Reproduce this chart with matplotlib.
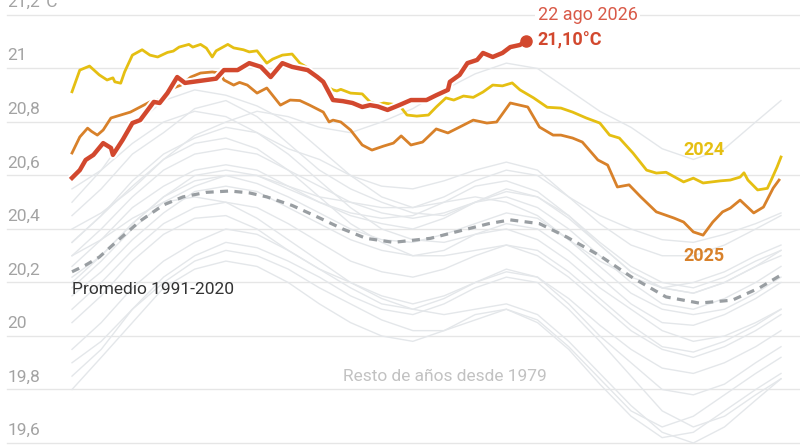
import numpy as np
import matplotlib.pyplot as plt
import matplotlib.patheffects as pe
import matplotlib.transforms as mtransforms

plt.rcParams['font.family'] = ['Roboto', 'DejaVu Sans']

# ---- data (day of year, temperature in C) ----
days_2024 = [1, 5, 10, 15, 19, 22, 23, 26, 28, 32, 37, 41, 45, 50, 53, 56, 61, 63, 67, 70,
             73, 75, 81, 84, 89, 92, 96, 101, 104, 109, 114, 118, 124, 128, 132, 135, 137,
             139, 144, 150, 154, 158, 161, 169, 173, 178, 184, 188, 193, 197, 202, 207, 212,
             217, 222, 227, 231, 238, 245, 252, 258, 265, 272, 277, 282, 289, 296, 301, 306,
             315, 320, 325, 334, 339, 344, 346, 348, 353, 358, 360, 363, 365]
temp_2024 = [20.913, 20.994, 21.009, 20.976, 20.957, 20.965, 20.950, 20.945, 20.987, 21.05,
             21.07, 21.05, 21.043, 21.06, 21.065, 21.08, 21.09, 21.08, 21.09, 21.076, 21.043,
             21.066, 21.09, 21.077, 21.07, 21.062, 21.066, 21.02, 21.035, 21.05, 21.054, 21.02,
             20.994, 20.965, 20.931, 20.92, 20.916, 20.922, 20.908, 20.905, 20.875, 20.865,
             20.871, 20.863, 20.826, 20.822, 20.826, 20.856, 20.89, 20.882, 20.897, 20.892,
             20.912, 20.938, 20.935, 20.946, 20.92, 20.89, 20.855, 20.852, 20.837, 20.815,
             20.796, 20.751, 20.74, 20.684, 20.62, 20.609, 20.612, 20.576, 20.59, 20.572,
             20.58, 20.583, 20.594, 20.61, 20.583, 20.546, 20.552, 20.583, 20.632, 20.669]

days_2025 = [1, 5, 9, 11, 14, 17, 21, 26, 31, 36, 41, 45, 49, 53, 57, 62, 67, 73, 77, 79, 84,
             87, 91, 96, 101, 108, 113, 118, 123, 130, 133, 135, 139, 144, 150, 155, 161, 166,
             170, 175, 181, 188, 194, 200, 207, 214, 219, 226, 235, 241, 248, 252, 258, 263,
             271, 276, 281, 287, 293, 301, 310, 315, 320, 325, 330, 335, 339, 344, 351, 356,
             361, 364]
temp_2025 = [20.684, 20.744, 20.777, 20.765, 20.751, 20.77, 20.815, 20.826, 20.837, 20.856,
             20.875, 20.882, 20.89, 20.927, 20.938, 20.968, 20.983, 20.987, 20.983, 20.957,
             20.938, 20.948, 20.938, 20.908, 20.927, 20.863, 20.882, 20.88, 20.863, 20.837,
             20.80, 20.807, 20.80, 20.77, 20.714, 20.695, 20.71, 20.721, 20.748, 20.714, 20.725,
             20.774, 20.759, 20.781, 20.807, 20.796, 20.80, 20.871, 20.856, 20.781, 20.751,
             20.751, 20.74, 20.725, 20.658, 20.639, 20.557, 20.565, 20.52, 20.464, 20.441,
             20.426, 20.389, 20.377, 20.426, 20.464, 20.478, 20.508, 20.46, 20.482, 20.553,
             20.583]

days_2026 = [1, 5, 8, 12, 17, 21, 22, 27, 32, 36, 43, 46, 50, 55, 59, 63, 70, 75, 79, 86, 92,
             98, 103, 109, 114, 122, 127, 130, 135, 140, 145, 150, 154, 158, 163, 169, 175,
             178, 183, 188, 194, 195, 200, 204, 209, 212, 217, 222, 226, 231, 234]
temp_2026 = [20.591, 20.62, 20.658, 20.677, 20.721, 20.703, 20.677, 20.733, 20.796, 20.807,
             20.875, 20.871, 20.908, 20.968, 20.946, 20.95, 20.957, 20.962, 20.994, 20.994,
             21.02, 21.006, 20.968, 21.02, 21.006, 20.994, 20.968, 20.95, 20.882, 20.878,
             20.871, 20.856, 20.863, 20.858, 20.845, 20.863, 20.882, 20.882, 20.882, 20.90,
             20.92, 20.95, 20.976, 21.02, 21.032, 21.058, 21.043, 21.058, 21.08, 21.088, 21.104]

days_avg = [1, 8, 15, 25, 36, 48, 58, 70, 82, 92, 101, 114, 127, 140, 152, 166, 185, 204, 215,
            226, 241, 255, 272, 289, 306, 323, 340, 354, 365]
temp_avg = [20.24, 20.265, 20.295, 20.36, 20.43, 20.49, 20.52, 20.537, 20.542, 20.535, 20.52,
            20.488, 20.445, 20.40, 20.365, 20.35, 20.365, 20.40, 20.42, 20.434, 20.42, 20.37,
            20.30, 20.217, 20.146, 20.123, 20.134, 20.18, 20.228]

# rest of years since 1979 (rough readings every ~16 days)
days_bg = [1, 16, 32, 48, 64, 80, 96, 112, 128, 144, 160, 176, 192, 208, 224, 240, 256, 272,
           288, 304, 320, 336, 352, 365]
bg_1979 = [19.80, 19.92, 20.05, 20.18, 20.25, 20.28, 20.26, 20.20, 20.12, 20.05, 20.00, 19.98,
           20.02, 20.08, 20.10, 20.05, 19.95, 19.82, 19.70, 19.62, 19.64, 19.72, 19.80, 19.86]
bg_1983 = [20.30, 20.36, 20.44, 20.50, 20.52, 20.50, 20.44, 20.36, 20.28, 20.20, 20.14, 20.10,
           20.08, 20.10, 20.12, 20.08, 19.98, 19.86, 19.74, 19.64, 19.60, 19.66, 19.76, 19.84]
bg_1985 = [19.85, 19.95, 20.10, 20.22, 20.30, 20.35, 20.33, 20.28, 20.22, 20.15, 20.10, 20.08,
           20.12, 20.18, 20.22, 20.20, 20.10, 19.98, 19.85, 19.72, 19.66, 19.70, 19.78, 19.84]
bg_1988 = [19.90, 19.98, 20.10, 20.20, 20.28, 20.32, 20.30, 20.25, 20.18, 20.12, 20.06, 20.02,
           20.02, 20.06, 20.10, 20.06, 19.96, 19.84, 19.72, 19.66, 19.70, 19.78, 19.86, 19.92]
bg_1989 = [19.95, 20.05, 20.18, 20.28, 20.35, 20.40, 20.38, 20.32, 20.25, 20.20, 20.15, 20.12,
           20.15, 20.20, 20.25, 20.22, 20.12, 20.00, 19.90, 19.80, 19.78, 19.82, 19.90, 19.96]
bg_1992 = [20.05, 20.15, 20.28, 20.38, 20.44, 20.45, 20.40, 20.32, 20.25, 20.18, 20.12, 20.10,
           20.14, 20.20, 20.24, 20.22, 20.14, 20.04, 19.95, 19.88, 19.86, 19.90, 19.96, 20.02]
bg_1995 = [20.10, 20.20, 20.32, 20.42, 20.48, 20.50, 20.48, 20.42, 20.35, 20.28, 20.24, 20.22,
           20.25, 20.30, 20.34, 20.32, 20.24, 20.14, 20.04, 19.96, 19.94, 19.98, 20.04, 20.10]
bg_1998 = [20.55, 20.62, 20.72, 20.80, 20.84, 20.82, 20.76, 20.68, 20.58, 20.48, 20.40, 20.36,
           20.35, 20.38, 20.40, 20.36, 20.28, 20.18, 20.10, 20.02, 19.98, 20.00, 20.05, 20.10]
bg_2001 = [20.15, 20.24, 20.36, 20.46, 20.54, 20.56, 20.54, 20.48, 20.42, 20.36, 20.32, 20.30,
           20.32, 20.38, 20.42, 20.40, 20.32, 20.22, 20.12, 20.05, 20.04, 20.08, 20.14, 20.20]
bg_2005 = [20.20, 20.30, 20.42, 20.52, 20.58, 20.60, 20.57, 20.52, 20.46, 20.40, 20.36, 20.35,
           20.38, 20.42, 20.46, 20.44, 20.36, 20.26, 20.16, 20.10, 20.08, 20.10, 20.16, 20.22]
bg_2010 = [20.35, 20.45, 20.56, 20.66, 20.72, 20.74, 20.70, 20.62, 20.52, 20.42, 20.35, 20.30,
           20.30, 20.32, 20.34, 20.30, 20.22, 20.12, 20.02, 19.95, 19.92, 19.96, 20.02, 20.08]
bg_2014 = [20.18, 20.28, 20.40, 20.50, 20.56, 20.60, 20.60, 20.56, 20.52, 20.50, 20.48, 20.48,
           20.52, 20.58, 20.62, 20.60, 20.52, 20.42, 20.34, 20.30, 20.30, 20.34, 20.40, 20.45]
bg_2016 = [20.50, 20.62, 20.78, 20.88, 20.92, 20.90, 20.86, 20.80, 20.70, 20.60, 20.52, 20.48,
           20.50, 20.52, 20.50, 20.45, 20.36, 20.28, 20.22, 20.18, 20.20, 20.24, 20.30, 20.34]
bg_2017 = [20.30, 20.40, 20.52, 20.62, 20.68, 20.70, 20.68, 20.62, 20.56, 20.50, 20.46, 20.44,
           20.46, 20.50, 20.54, 20.52, 20.44, 20.34, 20.24, 20.18, 20.16, 20.20, 20.26, 20.32]
bg_2019 = [20.35, 20.45, 20.58, 20.68, 20.74, 20.78, 20.76, 20.70, 20.66, 20.60, 20.56, 20.55,
           20.58, 20.62, 20.65, 20.62, 20.52, 20.45, 20.40, 20.36, 20.35, 20.38, 20.42, 20.46]
bg_2020 = [20.45, 20.55, 20.68, 20.76, 20.85, 20.88, 20.82, 20.72, 20.62, 20.55, 20.50, 20.46,
           20.45, 20.50, 20.55, 20.52, 20.45, 20.35, 20.26, 20.20, 20.18, 20.22, 20.28, 20.32]
bg_2021 = [20.22, 20.30, 20.42, 20.52, 20.60, 20.62, 20.60, 20.55, 20.50, 20.45, 20.42, 20.40,
           20.44, 20.50, 20.52, 20.48, 20.40, 20.30, 20.20, 20.12, 20.10, 20.14, 20.20, 20.26]
bg_2022 = [20.26, 20.36, 20.48, 20.56, 20.62, 20.64, 20.62, 20.56, 20.50, 20.46, 20.44, 20.45,
           20.50, 20.56, 20.58, 20.54, 20.45, 20.34, 20.24, 20.18, 20.16, 20.20, 20.26, 20.30]
bg_2023 = [20.40, 20.46, 20.55, 20.66, 20.75, 20.80, 20.84, 20.82, 20.78, 20.76, 20.80, 20.85,
           20.92, 20.98, 21.02, 21.00, 20.92, 20.84, 20.78, 20.70, 20.66, 20.70, 20.80, 20.88]
background = [bg_1979, bg_1983, bg_1985, bg_1988, bg_1989, bg_1992, bg_1995, bg_1998, bg_2001,
              bg_2005, bg_2010, bg_2014, bg_2016, bg_2017, bg_2019, bg_2020, bg_2021, bg_2022,
              bg_2023]

yticks = [19.6, 19.8, 20.0, 20.2, 20.4, 20.6, 20.8, 21.0, 21.2]
ytick_labels = ['19,6', '19,8', '20', '20,2', '20,4', '20,6', '20,8', '21', '21,2°C']

# ---- colours ----
c_2024 = '#e5bf12'
c_2025 = '#d8812a'
c_2026 = '#d2482e'
c_grid = '#e6e6e6'
c_bg = '#e4e7ea'

fig = plt.figure(figsize=(8, 4.45), dpi=100)
ax = fig.add_axes([0, 0, 1, 1])
ax.set_xlim(-35.97, 374.76)
ax.set_ylim(19.5925, 21.256)
ax.axis('off')

# grid + labels
lbl = mtransforms.offset_copy(ax.get_yaxis_transform(), fig=fig, x=0, y=5, units='dots')
for v, s in zip(yticks, ytick_labels):
    ax.axhline(v, xmin=0.009, xmax=1, color=c_grid, lw=1, zorder=0)
    ax.text(0.009, v, s, transform=lbl, fontsize=12.5, color='#a3a3a3',
            ha='left', va='bottom')

for vals in background:
    ax.plot(days_bg, vals, color=c_bg, lw=1, zorder=1)

ax.plot(days_avg, temp_avg, color='#999ea2', lw=2.3, ls=(0, (2.5, 2)), zorder=2)

ax.plot(days_2025, temp_2025, color=c_2025, lw=2, zorder=3)
ax.plot(days_2024, temp_2024, color=c_2024, lw=2, zorder=4)
ax.plot(days_2026, temp_2026, color=c_2026, lw=3.2, zorder=5,
        path_effects=[pe.Stroke(linewidth=6, foreground='white'), pe.Normal()])
ax.plot(days_2026[-1], temp_2026[-1], 'o', color=c_2026, ms=8, zorder=6)

# annotations
ax.text(240, 21.2, '22 ago 2026', fontsize=13, color='#d95a48', ha='left', va='center',
        bbox=dict(facecolor='white', edgecolor='none', pad=1.5), zorder=7)
ax.text(240, 21.104, '21,10°C', fontsize=13, fontweight='bold', color=c_2026,
        ha='left', va='center', zorder=7)
ax.text(315, 20.695, '2024', fontsize=13, fontweight='bold', color=c_2024,
        ha='left', va='center', zorder=7)
ax.text(315, 20.299, '2025', fontsize=13, fontweight='bold', color=c_2025,
        ha='left', va='center', zorder=7)
ax.text(1, 20.172, 'Promedio 1991-2020', fontsize=12.5, color='#333333',
        ha='left', va='center', zorder=7)
ax.text(140, 19.847, 'Resto de años desde 1979', fontsize=12.5, color='#c2c2c2',
        ha='left', va='center', zorder=7)

fig.savefig('out.png', dpi=100)
